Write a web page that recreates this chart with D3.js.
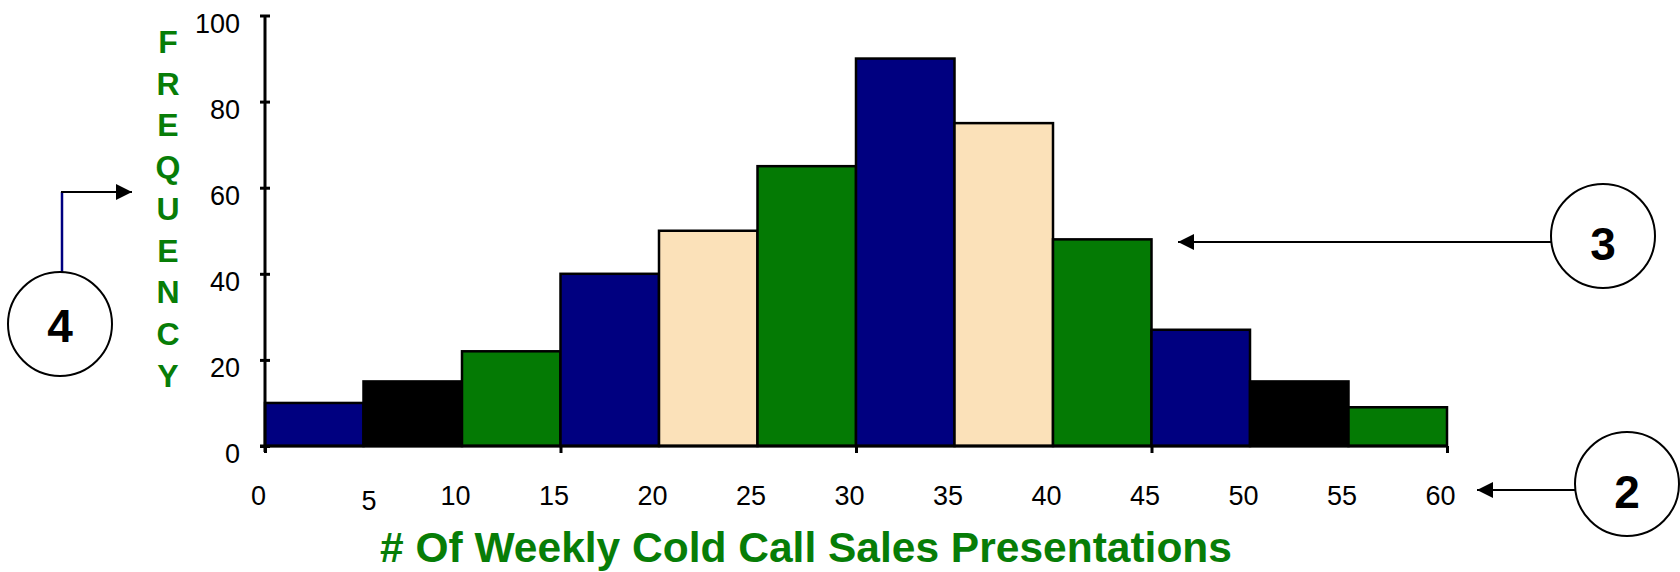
<!DOCTYPE html>
<html>
<head>
<meta charset="utf-8">
<script src="https://cdn.jsdelivr.net/npm/d3@7/dist/d3.min.js"></script>
<style>
  html, body { margin: 0; padding: 0; background: #fff; }
  svg { display: block; font-family: "Liberation Sans", Arial, sans-serif; }
</style>
</head>
<body>
<svg id="chart" width="1680" height="572"></svg>
<script>
// Histogram data: class lower bounds (width 5) and their frequencies
const binStarts = [0, 5, 10, 15, 20, 25, 30, 35, 40, 45, 50, 55];
const binWidth = 5;
const frequencies = [10, 15, 22, 40, 50, 65, 90, 75, 48, 27, 15, 9];
const barColors = ["#000080", "#000000", "#047a04", "#000080", "#fbe1b9", "#047a04",
                   "#000080", "#fbe1b9", "#047a04", "#000080", "#000000", "#047a04"];

const xTickLabels = [0, 5, 10, 15, 20, 25, 30, 35, 40, 45, 50, 55, 60];
const xTickMarks = [0, 15, 30, 45, 60];
const yTicks = [0, 20, 40, 60, 80, 100];

const xTitle = "# Of Weekly Cold Call Sales Presentations";
const yTitle = "FREQUENCY";
const callouts = ["4", "3", "2"];

const green = "#077d07";

const svg = d3.select("#chart");

const x = d3.scaleLinear().domain([0, 60]).range([265, 1447]);
const y = d3.scaleLinear().domain([0, 100]).range([446, 15.5]);

// Bars
svg.append("g")
  .selectAll("rect")
  .data(binStarts)
  .join("rect")
  .attr("x", d => x(d))
  .attr("width", d => x(d + binWidth) - x(d))
  .attr("y", (d, i) => y(frequencies[i]))
  .attr("height", (d, i) => y(0) - y(frequencies[i]))
  .attr("fill", (d, i) => barColors[i])
  .attr("stroke", "#000")
  .attr("stroke-width", 2.5);

// Y axis: ticks crossing the axis line, labels sitting slightly low
const yAxis = svg.append("g")
  .attr("transform", `translate(${x(0)},0)`)
  .call(d3.axisLeft(y).tickValues(yTicks).tickSizeInner(5).tickSizeOuter(0).tickPadding(20));
yAxis.select(".domain").remove();
yAxis.selectAll(".tick line").attr("x1", 5).attr("x2", -5).attr("stroke-width", 3);
yAxis.selectAll(".tick text")
  .attr("font-size", 27).attr("font-family", "Liberation Sans, Arial, sans-serif")
  .attr("fill", "#000").attr("dy", "0.62em");
yAxis.append("line")
  .attr("x1", 0).attr("x2", 0)
  .attr("y1", y(100)).attr("y2", y(0) + 6)
  .attr("stroke", "#000").attr("stroke-width", 3);

// X axis line with tick marks every 15
const xMarks = svg.append("g")
  .attr("transform", `translate(0,${y(0)})`)
  .call(d3.axisBottom(x).tickValues(xTickMarks).tickSizeInner(7).tickSizeOuter(0).tickFormat(""));
xMarks.select(".domain").remove();
xMarks.selectAll(".tick line").attr("stroke-width", 3);
xMarks.append("line")
  .attr("x1", x(0) - 5).attr("x2", x(60))
  .attr("stroke", "#000").attr("stroke-width", 3);

// X tick labels every 5
const labelNudge = { 5: [12, 5] };
const xLabels = svg.append("g")
  .attr("transform", `translate(0,${y(0)})`)
  .call(d3.axisBottom(x).tickValues(xTickLabels).tickSize(0).tickPadding(0));
xLabels.select(".domain").remove();
xLabels.selectAll(".tick text")
  .attr("font-size", 27).attr("font-family", "Liberation Sans, Arial, sans-serif")
  .attr("fill", "#000")
  .attr("x", d => -7 + (labelNudge[d] ? labelNudge[d][0] : 0))
  .attr("y", d => 50 + (labelNudge[d] ? labelNudge[d][1] : 0))
  .attr("dy", "0.35em");

// X axis title
svg.append("text")
  .attr("x", 806).attr("y", 562)
  .attr("text-anchor", "middle")
  .attr("font-size", 42.5).attr("font-weight", "bold")
  .attr("fill", green)
  .text(xTitle);

// Y axis title, letters stacked vertically
svg.append("g")
  .selectAll("text")
  .data(yTitle.split(""))
  .join("text")
  .attr("x", 168)
  .attr("y", (d, i) => 53 + i * 41.7)
  .attr("text-anchor", "middle")
  .attr("font-size", 32).attr("font-weight", "bold")
  .attr("fill", green)
  .text(d => d);

// Callout markers
const defs = svg.append("defs");
defs.append("marker")
  .attr("id", "arrowHead")
  .attr("viewBox", "0 0 16 16")
  .attr("refX", 16).attr("refY", 8)
  .attr("markerWidth", 16).attr("markerHeight", 16)
  .attr("markerUnits", "userSpaceOnUse")
  .attr("orient", "auto")
  .append("path")
  .attr("d", "M0,0 L16,8 L0,16 Z")
  .attr("fill", "#000");

const notes = svg.append("g");

function bubble(cx, cy, r, label, ty) {
  notes.append("ellipse")
    .attr("cx", cx).attr("cy", cy).attr("rx", r).attr("ry", r)
    .attr("fill", "#fff").attr("stroke", "#000").attr("stroke-width", 2);
  notes.append("text")
    .attr("x", cx).attr("y", ty)
    .attr("text-anchor", "middle")
    .attr("font-size", 46).attr("font-weight", "bold")
    .attr("fill", "#000")
    .text(label);
}

// Callout 4: elbow connector pointing at the vertical title
notes.append("line")
  .attr("x1", 62).attr("x2", 62).attr("y1", 272).attr("y2", 192)
  .attr("stroke", "#000080").attr("stroke-width", 2.5);
notes.append("line")
  .attr("x1", 61).attr("x2", 132).attr("y1", 192).attr("y2", 192)
  .attr("stroke", "#000").attr("stroke-width", 2)
  .attr("marker-end", "url(#arrowHead)");
bubble(60, 324, 52, callouts[0], 342);

// Callout 3: pointing at the bars
notes.append("line")
  .attr("x1", 1552).attr("x2", 1178).attr("y1", 242).attr("y2", 242)
  .attr("stroke", "#000").attr("stroke-width", 2)
  .attr("marker-end", "url(#arrowHead)");
bubble(1603, 236, 52, callouts[1], 260);

// Callout 2: pointing at the x axis labels
notes.append("line")
  .attr("x1", 1576).attr("x2", 1477).attr("y1", 490).attr("y2", 490)
  .attr("stroke", "#000").attr("stroke-width", 2)
  .attr("marker-end", "url(#arrowHead)");
bubble(1627, 484, 52, callouts[2], 508);
</script>
</body>
</html>
